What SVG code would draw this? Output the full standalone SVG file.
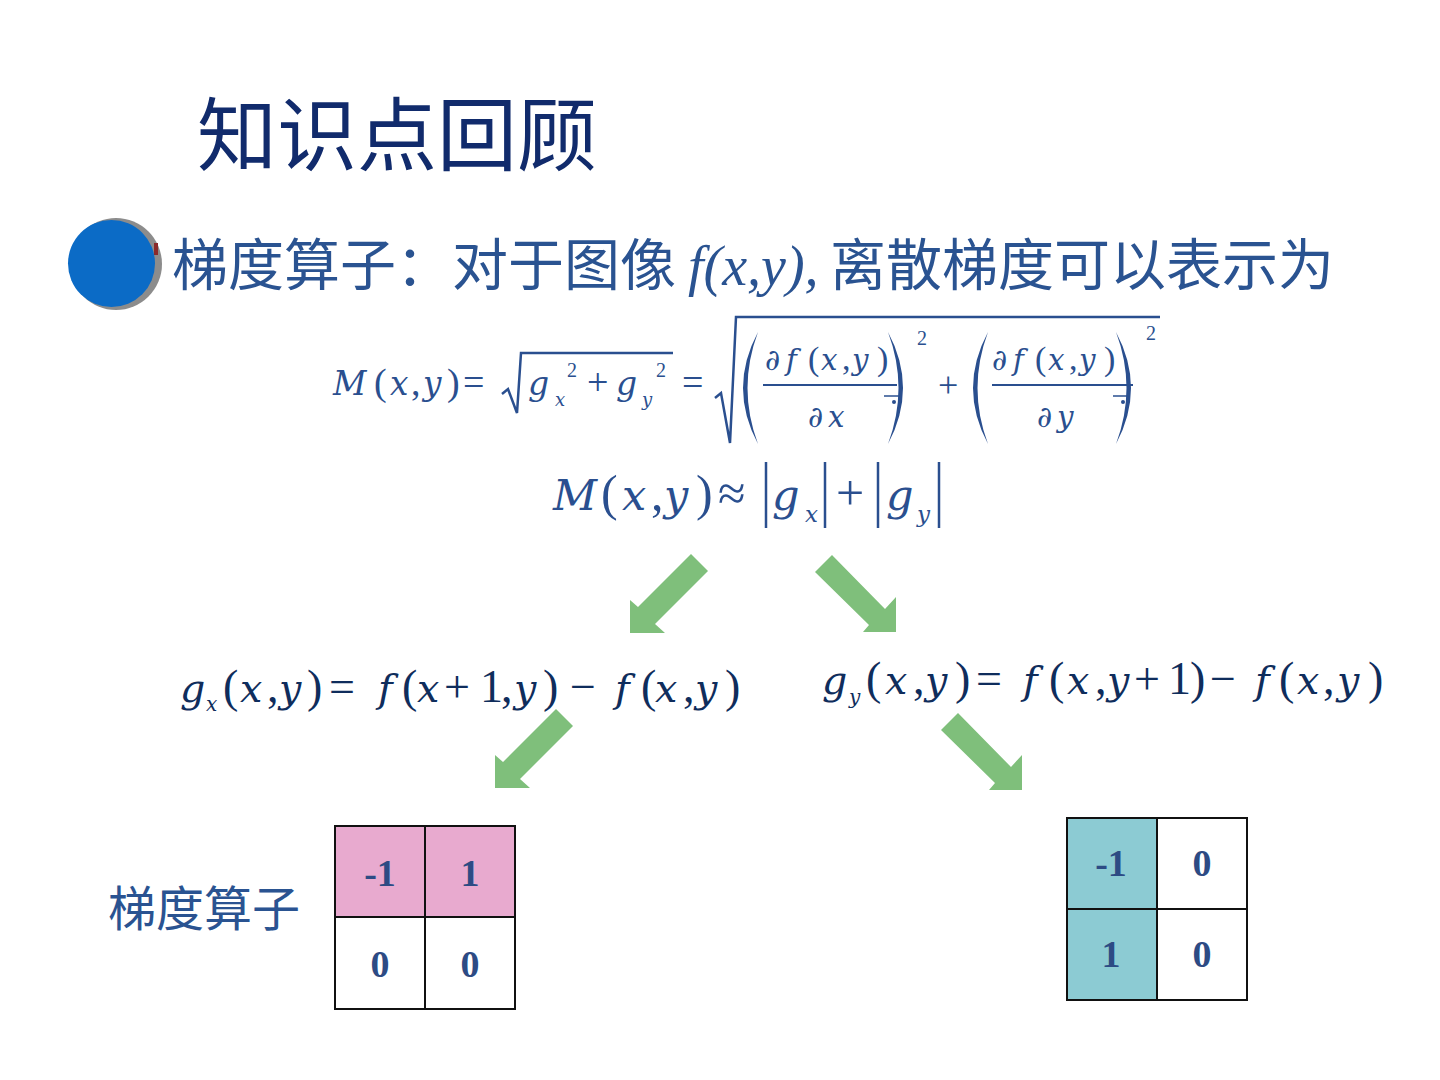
<svg xmlns="http://www.w3.org/2000/svg" width="1440" height="1080" viewBox="0 0 1440 1080">
<defs>
<style>
.cjk{font-family:"Noto Sans CJK SC","Noto Sans",sans-serif}
.m{font-family:"Liberation Serif","DejaVu Serif",serif}
.ti{font-style:italic}
.v{font-style:italic;font-family:"DejaVu Serif",serif}
tspan.v{font-size:0.86em}
.d{font-family:"DejaVu Serif",serif}
tspan.d{font-size:0.86em}
.c1{fill:#2a4f8f}
.c3{fill:#0f2d5c}
.num{font-family:"Liberation Serif",serif;font-weight:bold;font-size:38px;fill:#2d4b84;text-anchor:middle}
.grid{fill:none;stroke:#111;stroke-width:2}
.arrow{fill:#7fbf7b}
.bar{stroke:#2a4f8f;stroke-width:2.5}
</style>
</defs>
<rect width="1440" height="1080" fill="#fff"/>

<g id="title">
<text class="cjk" x="197" y="164" font-size="80" fill="#112b6c">知识点回顾</text>
</g>

<g id="bullet">
<circle cx="116" cy="264" r="46" fill="#8c8c8c"/>
<rect x="154" y="243" width="4" height="12" fill="#8b2a2a"/>
<circle cx="111.5" cy="263.5" r="43.5" fill="#0b6bc6"/>
<text class="cjk" x="172" y="285" font-size="56" fill="#2a5391">梯度算子：对于图像</text>
<text class="m ti" x="688" y="285" font-size="56" fill="#2a5391">f(x,y),</text>
<text class="cjk" x="830" y="285" font-size="56" fill="#2a5391">离散梯度可以表示为</text>
</g>

<g id="formula1" class="m c1">
<text y="395" font-size="38"><tspan class="v" x="333">M</tspan><tspan x="374">(</tspan><tspan class="v" x="390">x</tspan><tspan x="411">,</tspan><tspan class="v" x="423">y</tspan><tspan x="447">)</tspan><tspan x="463">=</tspan></text>
<path d="M502,394 L508,389 L517,413 L521,353 L673,353" fill="none" stroke="#2a4f8f" stroke-width="2.5"/>
<text class="v" x="528" y="395" font-size="33">g</text>
<text class="v" x="555" y="406" font-size="18">x</text>
<text x="567" y="377" font-size="20">2</text>
<text x="587" y="395" font-size="38">+</text>
<text class="v" x="616" y="395" font-size="33">g</text>
<text class="v" x="642" y="406" font-size="18">y</text>
<text x="656" y="377" font-size="20">2</text>
<text x="682" y="395" font-size="38">=</text>
<path d="M715,398 L721,393 L730,443 L736,317 L1160,317" fill="none" stroke="#2a4f8f" stroke-width="2.5"/>
<path d="M758,332 Q728,388 758,444 Q737,388 758,332 Z"/>
<path d="M888,332 Q918,388 888,444 Q909,388 888,332 Z"/>
<path d="M988,332 Q958,388 988,444 Q967,388 988,332 Z"/>
<path d="M1116,332 Q1146,388 1116,444 Q1137,388 1116,332 Z"/>
<text y="370" font-size="34"><tspan class="d" x="765">∂</tspan><tspan class="v" x="786">f</tspan><tspan x="808">(</tspan><tspan class="v" x="821">x</tspan><tspan x="842">,</tspan><tspan class="v" x="852">y</tspan><tspan x="877">)</tspan></text>
<line x1="763" y1="385" x2="897" y2="385" stroke="#2a4f8f" stroke-width="1.8"/>
<text y="427" font-size="34"><tspan class="d" x="808">∂</tspan><tspan class="v" x="828">x</tspan></text>
<line x1="884" y1="396" x2="900" y2="396" stroke="#2a4f8f" stroke-width="1.5"/>
<circle cx="894" cy="402" r="2"/>
<text x="917" y="345" font-size="20">2</text>
<text x="938" y="397" font-size="36">+</text>
<text y="370" font-size="34"><tspan class="d" x="992">∂</tspan><tspan class="v" x="1013">f</tspan><tspan x="1035">(</tspan><tspan class="v" x="1048">x</tspan><tspan x="1069">,</tspan><tspan class="v" x="1079">y</tspan><tspan x="1104">)</tspan></text>
<line x1="992" y1="385" x2="1133" y2="385" stroke="#2a4f8f" stroke-width="1.8"/>
<text y="427" font-size="34"><tspan class="d" x="1037">∂</tspan><tspan class="v" x="1057">y</tspan></text>
<line x1="1113" y1="396" x2="1129" y2="396" stroke="#2a4f8f" stroke-width="1.5"/>
<circle cx="1123" cy="402" r="2"/>
<text x="1146" y="340" font-size="20">2</text>
</g>

<g id="formula2" class="m c1">
<text y="510" font-size="50"><tspan class="v" x="553">M</tspan><tspan x="601">(</tspan><tspan class="v" x="622">x</tspan><tspan x="651">,</tspan><tspan class="v" x="664">y</tspan><tspan x="696">)</tspan><tspan x="718">≈</tspan></text>
<line class="bar" x1="766" y1="462" x2="766" y2="528"/>
<text class="v" x="772" y="510" font-size="43">g</text>
<text class="v" x="805" y="522" font-size="23">x</text>
<line class="bar" x1="825" y1="462" x2="825" y2="528"/>
<text x="836" y="510" font-size="50">+</text>
<line class="bar" x1="878" y1="462" x2="878" y2="528"/>
<text class="v" x="886" y="510" font-size="43">g</text>
<text class="v" x="917" y="522" font-size="23">y</text>
<line class="bar" x1="939" y1="462" x2="939" y2="528"/>
</g>

<g id="formula3" class="m c3">
<text y="702" font-size="46"><tspan class="v" x="180">g</tspan><tspan x="223">(</tspan><tspan class="v" x="240">x</tspan><tspan x="267">,</tspan><tspan class="v" x="279">y</tspan><tspan x="307">)</tspan><tspan x="329">=</tspan><tspan class="v" x="378">f</tspan><tspan x="402">(</tspan><tspan class="v" x="417">x</tspan><tspan x="444">+</tspan><tspan x="480">1</tspan><tspan x="501">,</tspan><tspan class="v" x="514">y</tspan><tspan x="543">)</tspan><tspan x="570">−</tspan><tspan class="v" x="615">f</tspan><tspan x="641">(</tspan><tspan class="v" x="655">x</tspan><tspan x="683">,</tspan><tspan class="v" x="695">y</tspan><tspan x="725">)</tspan></text>
<text class="v" x="206" y="711" font-size="20">x</text>
</g>

<g id="formula4" class="m c3">
<text y="694" font-size="46"><tspan class="v" x="822">g</tspan><tspan x="866">(</tspan><tspan class="v" x="885">x</tspan><tspan x="913">,</tspan><tspan class="v" x="925">y</tspan><tspan x="955">)</tspan><tspan x="976">=</tspan><tspan class="v" x="1023">f</tspan><tspan x="1049">(</tspan><tspan class="v" x="1067">x</tspan><tspan x="1095">,</tspan><tspan class="v" x="1107">y</tspan><tspan x="1134">+</tspan><tspan x="1168">1</tspan><tspan x="1190">)</tspan><tspan x="1210">−</tspan><tspan class="v" x="1255">f</tspan><tspan x="1279">(</tspan><tspan class="v" x="1297">x</tspan><tspan x="1323">,</tspan><tspan class="v" x="1337">y</tspan><tspan x="1368">)</tspan></text>
<text class="v" x="849" y="704" font-size="20">y</text>
</g>

<g id="connectors">
<polygon class="arrow" points="691,554 708,571 655,624 665,633 630,633 630,600 638,607"/>
<polygon class="arrow" points="832,555 885,609 896,597 896,632 863,632 869,625 815,572"/>
<polygon class="arrow" points="556,709 573,726 520,779 530,788 495,788 495,755 503,762"/>
<polygon class="arrow" points="958,713 1011,767 1022,755 1022,790 989,790 995,783 941,730"/>
</g>

<g id="label">
<text class="cjk" x="108" y="926" font-size="48" fill="#2a5391">梯度算子</text>
</g>

<g id="table-x">
<rect x="335" y="826" width="180" height="91" fill="#e8aacf"/>
<rect class="grid" x="335" y="826" width="180" height="183"/>
<line class="grid" x1="425" y1="826" x2="425" y2="1009"/>
<line class="grid" x1="335" y1="917" x2="515" y2="917"/>
<text class="num" x="380" y="886">-1</text>
<text class="num" x="470" y="886">1</text>
<text class="num" x="380" y="977">0</text>
<text class="num" x="470" y="977">0</text>
</g>

<g id="table-y">
<rect x="1067" y="818" width="90" height="182" fill="#8ccbd3"/>
<rect class="grid" x="1067" y="818" width="180" height="182"/>
<line class="grid" x1="1157" y1="818" x2="1157" y2="1000"/>
<line class="grid" x1="1067" y1="909" x2="1247" y2="909"/>
<text class="num" x="1111" y="876">-1</text>
<text class="num" x="1202" y="876">0</text>
<text class="num" x="1111" y="967">1</text>
<text class="num" x="1202" y="967">0</text>
</g>
</svg>
